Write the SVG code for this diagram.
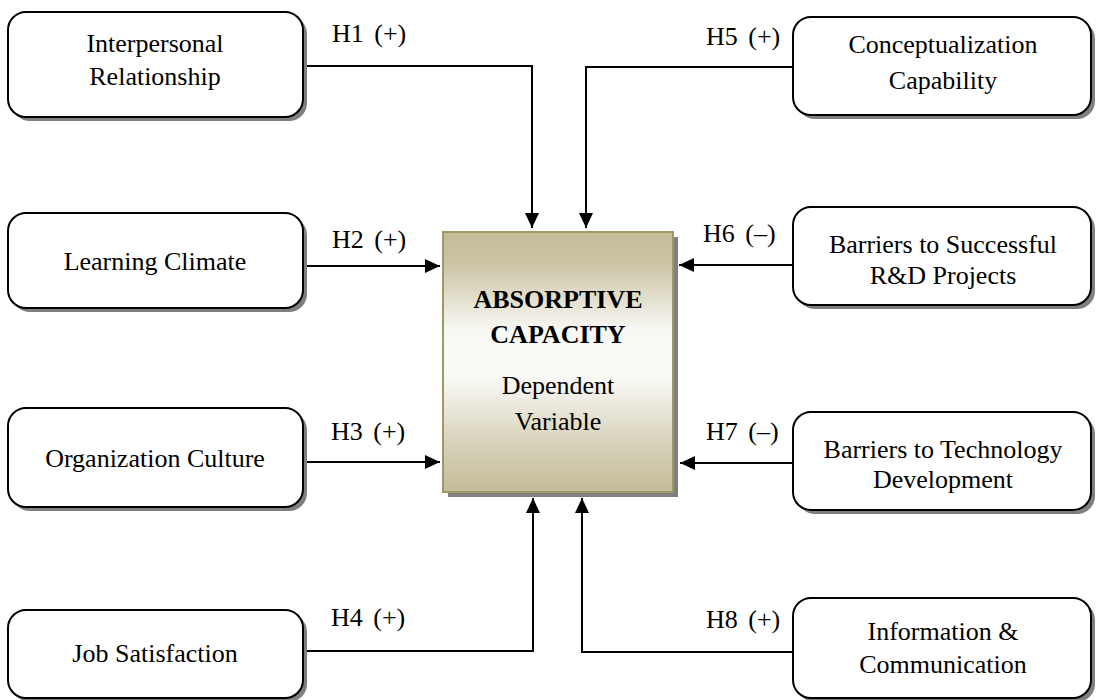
<svg xmlns="http://www.w3.org/2000/svg" width="1097" height="700" viewBox="0 0 1097 700">
  <style>
    .box { fill: #ffffff; stroke: #000000; stroke-width: 2; }
    .shadow { fill: #7f7f7f; }
    .label { font-family: "Liberation Serif", "Times New Roman", serif; font-size: 26px; fill: #000000; }
    .mid { text-anchor: middle; }
    .hyp { word-spacing: 4px; }
    .conn { fill: none; stroke: #000000; stroke-width: 2; marker-end: url(#arrow); }
  </style>
  <defs>
    <marker id="arrow" markerUnits="userSpaceOnUse" markerWidth="16" markerHeight="15" refX="15" refY="7" orient="auto">
      <path d="M0,0 L15,7 L0,14 z" fill="#000000"/>
    </marker>
    <linearGradient id="coreFill" x1="0" y1="0" x2="0" y2="1">
      <stop offset="0" stop-color="#c4bc98"/>
      <stop offset="0.12" stop-color="#cbc4a4"/>
      <stop offset="0.38" stop-color="#f8f8f4"/>
      <stop offset="0.55" stop-color="#fafaf8"/>
      <stop offset="0.82" stop-color="#d7d1b8"/>
      <stop offset="1" stop-color="#c4bc98"/>
    </linearGradient>
  </defs>

  <rect width="1097" height="700" fill="#ffffff"/>

  <!-- connectors -->
  <g id="connectors">
    <path class="conn" d="M303,66 H532 V228"/>
    <path class="conn" d="M794,67 H586 V228"/>
    <path class="conn" d="M303,266 H440"/>
    <path class="conn" d="M794,265 H679"/>
    <path class="conn" d="M303,462 H440"/>
    <path class="conn" d="M794,463 H680"/>
    <path class="conn" d="M303,651 H533 V498"/>
    <path class="conn" d="M794,652 H582 V498"/>
  </g>

  <!-- hypothesis labels -->
  <g id="hypotheses" class="label hyp">
    <text x="332" y="42">H1 (+)</text>
    <text x="332" y="248">H2 (+)</text>
    <text x="331" y="440">H3 (+)</text>
    <text x="331" y="626">H4 (+)</text>
    <text x="706" y="45">H5 (+)</text>
    <text x="703" y="242">H6 (–)</text>
    <text x="706" y="440">H7 (–)</text>
    <text x="706" y="628">H8 (+)</text>
  </g>

  <!-- central dependent variable -->
  <g id="absorptive-capacity">
    <rect x="448" y="237" width="230" height="260" class="shadow"/>
    <rect x="443" y="232" width="230" height="260" fill="url(#coreFill)" stroke="#9e9766" stroke-width="2"/>
    <text x="558" y="308" class="label mid" font-weight="bold">ABSORPTIVE</text>
    <text x="558" y="343" class="label mid" font-weight="bold">CAPACITY</text>
    <text x="558" y="394" class="label mid">Dependent</text>
    <text x="558" y="430" class="label mid">Variable</text>
  </g>

  <!-- left-hand factors -->
  <g id="interpersonal-relationship">
    <rect x="12" y="16" width="295" height="105" rx="18" class="shadow"/>
    <rect x="8" y="12" width="295" height="105" rx="18" class="box"/>
    <text x="155" y="52" class="label mid">Interpersonal</text>
    <text x="155" y="85" class="label mid">Relationship</text>
  </g>
  <g id="learning-climate">
    <rect x="12" y="217" width="295" height="95" rx="18" class="shadow"/>
    <rect x="8" y="213" width="295" height="95" rx="18" class="box"/>
    <text x="155" y="270" class="label mid">Learning Climate</text>
  </g>
  <g id="organization-culture">
    <rect x="12" y="412" width="295" height="99" rx="18" class="shadow"/>
    <rect x="8" y="408" width="295" height="99" rx="18" class="box"/>
    <text x="155" y="467" class="label mid">Organization Culture</text>
  </g>
  <g id="job-satisfaction">
    <rect x="12" y="614" width="295" height="88" rx="18" class="shadow"/>
    <rect x="8" y="610" width="295" height="88" rx="18" class="box"/>
    <text x="155" y="662" class="label mid">Job Satisfaction</text>
  </g>

  <!-- right-hand factors -->
  <g id="conceptualization-capability">
    <rect x="797" y="21" width="298" height="98" rx="18" class="shadow"/>
    <rect x="793" y="17" width="298" height="98" rx="18" class="box"/>
    <text x="943" y="53" class="label mid">Conceptualization</text>
    <text x="943" y="89" class="label mid">Capability</text>
  </g>
  <g id="barriers-rd-projects">
    <rect x="797" y="211" width="298" height="98" rx="18" class="shadow"/>
    <rect x="793" y="207" width="298" height="98" rx="18" class="box"/>
    <text x="943" y="253" class="label mid">Barriers to Successful</text>
    <text x="943" y="284" class="label mid">R&amp;D Projects</text>
  </g>
  <g id="barriers-technology">
    <rect x="797" y="416" width="298" height="98" rx="18" class="shadow"/>
    <rect x="793" y="412" width="298" height="98" rx="18" class="box"/>
    <text x="943" y="458" class="label mid">Barriers to Technology</text>
    <text x="943" y="488" class="label mid">Development</text>
  </g>
  <g id="information-communication">
    <rect x="797" y="602" width="298" height="100" rx="18" class="shadow"/>
    <rect x="793" y="598" width="298" height="100" rx="18" class="box"/>
    <text x="943" y="640" class="label mid">Information &amp;</text>
    <text x="943" y="673" class="label mid">Communication</text>
  </g>
</svg>
